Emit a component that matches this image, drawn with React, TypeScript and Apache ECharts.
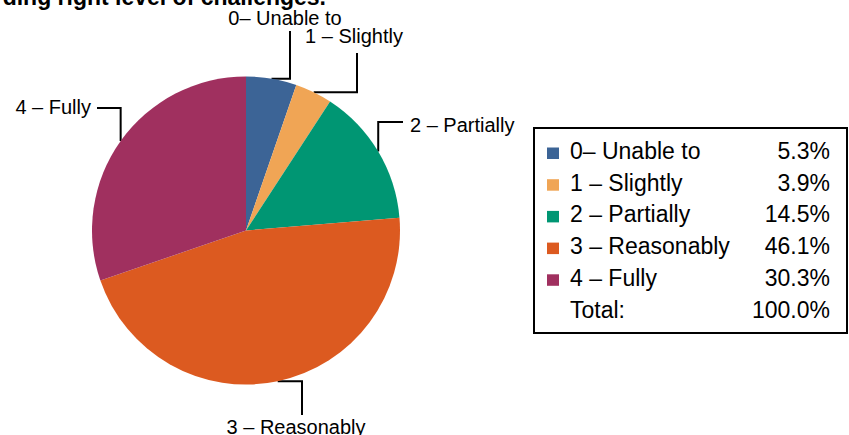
import React, { useEffect, useRef } from "react";
import * as echarts from "echarts";

// ---- data ----
const categories = ["0– Unable to", "1 – Slightly", "2 – Partially", "3 – Reasonably", "4 – Fully"];
const percentages = [5.3, 3.9, 14.5, 46.1, 30.3];
const totalLabel = "Total:";
const totalPercent = 100.0;
const titleText = "ding right level of challenges.";

// ---- styles ----
const colors = ["#3C6496", "#F0A555", "#009673", "#DC5A20", "#A0305F"];
const pieCenter = [246, 230.5];
const pieRadius = 154;
const labelPlacement = [
  { x: 285, y: 17.5, align: "center", bend: "h", end: [290, 31] },
  { x: 354, y: 36, align: "center", bend: "h", end: [357, 53] },
  { x: 410, y: 124.5, align: "left", bend: "v", end: [403, 122] },
  { x: 296, y: 427, align: "center", bend: "h", end: [302, 415] },
  { x: 91, y: 106.5, align: "right", bend: "v", end: [97, 108] },
];
const legendBox = { x: 534, y: 128, w: 313, h: 205 };
const legendFirstBaseline = 159;
const legendRowStep = 31.7;
const legendFontSize = 23;
const fontFamily = "Arial, 'Liberation Sans', Helvetica, sans-serif";

function anchorFor(i: number): number[] {
  const sum = percentages.reduce((a, b) => a + b, 0);
  let cum = 0;
  for (let k = 0; k < i; k++) cum += percentages[k];
  const mid = ((cum + percentages[i] / 2) / sum) * Math.PI * 2;
  return [pieCenter[0] + pieRadius * Math.sin(mid), pieCenter[1] - pieRadius * Math.cos(mid)];
}

export default function App() {
  const ref = useRef<HTMLDivElement>(null);
  useEffect(() => {
    if (!ref.current) return;
    const chart = echarts.init(ref.current, undefined, { renderer: "svg" });
    const lf = `${legendFontSize}px ${fontFamily}`;
    const mid = legendFontSize * 0.35;

    const legendElements: any[] = [
      {
        type: "rect",
        shape: { x: legendBox.x, y: legendBox.y, width: legendBox.w, height: legendBox.h },
        style: { fill: "#fff", stroke: "#000", lineWidth: 2 },
      },
    ];
    categories.forEach((name, i) => {
      const base = legendFirstBaseline + i * legendRowStep;
      legendElements.push({
        type: "rect",
        shape: { x: 547, y: base - 11.5, width: 12, height: 11.5 },
        style: { fill: colors[i] },
      });
      legendElements.push({
        type: "text",
        x: 570,
        y: base - mid,
        style: { text: name, font: lf, fill: "#000", align: "left", verticalAlign: "middle" },
      });
      legendElements.push({
        type: "text",
        x: 830,
        y: base - mid,
        style: {
          text: percentages[i].toFixed(1) + "%",
          font: lf,
          fill: "#000",
          align: "right",
          verticalAlign: "middle",
        },
      });
    });
    const totalBase = legendFirstBaseline + categories.length * legendRowStep + 1;
    legendElements.push({
      type: "text",
      x: 570,
      y: totalBase - mid,
      style: { text: totalLabel, font: lf, fill: "#000", align: "left", verticalAlign: "middle" },
    });
    legendElements.push({
      type: "text",
      x: 830,
      y: totalBase - mid,
      style: {
        text: totalPercent.toFixed(1) + "%",
        font: lf,
        fill: "#000",
        align: "right",
        verticalAlign: "middle",
      },
    });

    chart.setOption({
      animation: false,
      color: colors,
      graphic: [
        {
          type: "text",
          x: 326,
          y: -3,
          style: {
            text: titleText,
            font: `bold 23px ${fontFamily}`,
            fill: "#000",
            align: "right",
            verticalAlign: "middle",
          },
        },
        ...legendElements,
      ],
      series: [
        {
          type: "pie",
          center: pieCenter,
          radius: pieRadius,
          startAngle: 90,
          clockwise: true,
          avoidLabelOverlap: false,
          itemStyle: { borderWidth: 0 },
          label: {
            show: true,
            position: "outside",
            formatter: "{b}",
            fontSize: 20,
            fontFamily,
            color: "#000",
          },
          labelLine: { show: true, length: 10, length2: 10, lineStyle: { color: "#000", width: 2 } },
          labelLayout: (params: any) => {
            const p = labelPlacement[params.dataIndex];
            const a = anchorFor(params.dataIndex);
            const bendPt = p.bend === "h" ? [p.end[0], a[1]] : [a[0], p.end[1]];
            return {
              x: p.x,
              y: p.y,
              align: p.align,
              verticalAlign: "middle",
              labelLinePoints: [a, bendPt, p.end],
            };
          },
          emphasis: { disabled: true },
          data: categories.map((name, i) => ({ name, value: percentages[i] })),
        },
      ],
    });
    return () => chart.dispose();
  }, []);
  return <div ref={ref} style={{ position: "absolute", left: 0, top: 0, width: 849, height: 435 }} />;
}
